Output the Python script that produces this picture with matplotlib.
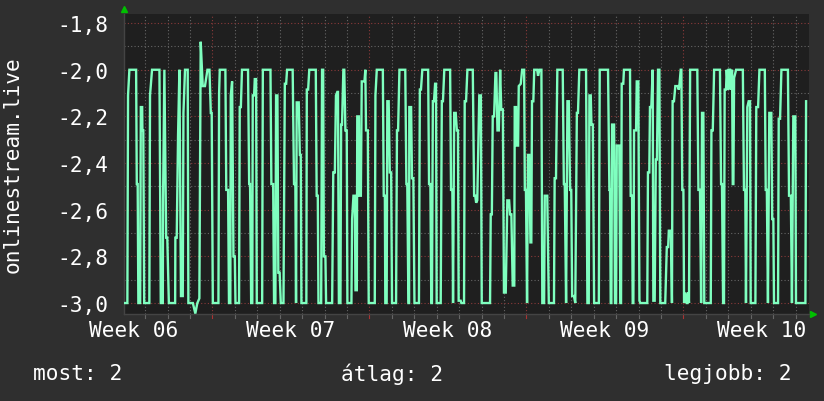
import matplotlib
matplotlib.use("Agg")
import matplotlib.pyplot as plt
from matplotlib.ticker import FixedLocator, FuncFormatter
import matplotlib.transforms as mtransforms

# ---- data (time in days relative to start of Week 07) ----
days = [
    -3.94, -3.79, -3.76, -3.70, -3.40, -3.37, -3.33, -3.30, -3.22, -3.19, -3.13, -3.12, -3.08, -3.04,
    -2.81, -2.78, -2.69, -2.36, -2.30, -2.21, -2.20, -2.14, -2.06, -2.01, -1.94, -1.66, -1.65, -1.59,
    -1.53, -1.47, -1.40, -1.32, -1.29, -1.22, -1.10, -1.07, -0.87, -0.76, -0.67, -0.58, -0.52, -0.43,
    -0.33, -0.22, -0.13, -0.07, -0.03, 0.02, 0.27,
    0.30, 0.33, 0.58, 0.62, 0.70, 0.74, 0.80, 0.82, 0.88, 0.94, 1.00, 1.03, 1.19, 1.22, 1.27, 1.32,
    1.59, 1.64, 1.68, 1.73, 1.78, 1.80, 1.86, 1.89, 1.95, 1.98, 2.22, 2.25, 2.59, 2.63, 2.71, 2.75,
    2.81, 2.84, 2.90, 2.94, 3.00, 3.05, 3.17, 3.23, 3.29, 3.33, 3.58, 3.64, 3.70, 3.73, 3.76, 3.85,
    3.90, 3.94, 3.97, 4.19, 4.21, 4.27, 4.32, 4.61, 4.65, 4.70, 4.73,
    4.85, 4.89, 4.94, 4.97, 5.04, 5.07, 5.34, 5.39, 5.46, 5.51, 5.57, 5.60, 5.64, 5.71, 5.74, 5.78,
    5.84, 5.88, 5.93, 5.99, 6.02, 6.20, 6.23, 6.29, 6.35, 6.38, 6.44, 6.46, 6.53, 6.55, 6.62, 6.66,
    6.78, 6.82, 6.85, 6.93, 6.97, 7.24, 7.27, 7.33, 7.60, 7.64, 7.69, 7.71, 7.77, 7.80, 7.86, 7.91,
    7.97, 8.01, 8.19, 8.23, 8.28, 8.34, 8.60, 8.65, 8.69, 8.74, 8.77, 8.78, 8.86, 8.90, 8.96, 9.01,
    9.21, 9.25, 9.30, 9.36, 9.62, 9.66, 9.72, 9.76, 9.79, 9.83, 9.88, 9.93, 9.97, 10.00, 10.18, 10.23,
    10.28, 10.34, 10.60, 10.64, 10.70, 10.73, 10.78, 10.85, 10.90, 10.95, 10.98, 11.07, 11.10, 11.22,
    11.25, 11.31, 11.37, 11.61, 11.67, 11.72, 11.76, 11.81, 11.90, 11.97, 12.01, 12.38, 12.41, 12.46,
    12.50, 12.56, 12.62, 12.66, 12.71, 12.77, 12.83, 12.88, 12.95, 13.00, 13.08, 13.15, 13.23, 13.27,
    13.33, 13.39,
    13.46, 13.48, 13.54, 13.57, 13.63, 13.66, 13.75, 13.81, 13.90, 13.93, 13.98, 14.03, 14.07, 14.13,
    14.18, 14.22, 14.25, 14.31, 14.35, 14.48, 14.52, 14.58, 14.67, 14.71, 14.79, 14.82, 14.93, 15.00,
    15.23, 15.26, 15.32, 15.38, 15.62, 15.67, 15.71, 15.77, 15.83, 15.89, 15.95, 16.00, 16.04, 16.12,
    16.18, 16.25, 16.30, 16.36, 16.66, 16.72, 16.78, 16.81, 16.87, 16.90, 16.96, 17.02, 17.23, 17.27,
    17.64, 17.70, 17.73,
    17.76, 17.79, 17.82, 17.91, 17.95, 18.00, 18.03, 18.14, 18.19, 18.22, 18.25, 18.32, 18.35, 18.62,
    18.65, 18.71, 18.74, 18.77, 18.80, 18.89, 18.92, 18.99, 19.04, 19.08, 19.39, 19.42, 19.48, 19.51,
    19.57, 19.63, 19.66, 19.72, 19.77, 19.82, 19.87, 19.93, 19.97, 20.19, 20.26, 20.32, 20.35, 20.44,
    20.49, 20.52, 20.58, 20.64, 20.76, 20.79, 20.82, 20.88, 20.91, 20.95, 21.00, 21.03, 21.09, 21.15,
    21.18, 21.21, 21.25, 21.30, 21.62, 21.67, 21.74, 21.79, 21.83, 21.89, 21.93,
    22.22, 22.25, 22.31, 22.37, 22.63, 22.68, 22.72, 22.77, 22.81, 22.84, 22.90, 22.93, 22.99, 23.02,
    23.08, 23.11, 23.17, 23.20, 23.23, 23.26, 23.35, 23.65, 23.70, 23.76, 23.79, 23.85, 23.91, 23.97,
    24.00, 24.21, 24.25, 24.33, 24.39, 24.63, 24.67, 24.72, 24.77, 24.83, 24.92, 24.96, 25.01, 25.04,
    25.22, 25.25, 25.31, 25.37, 25.66, 25.71, 25.79, 25.84, 25.90, 25.99, 26.02, 26.44, 26.47,
]

values = [
    -3.00, -3.00, -2.11, -2.00, -2.00, -2.49, -2.49, -3.00, -3.00, -2.16, -2.16, -2.26, -2.26, -3.00,
    -3.00, -2.11, -2.00, -2.00, -3.00, -3.00, -2.56, -2.00, -2.72, -2.72, -3.00, -3.00, -2.72, -2.72,
    -2.28, -2.00, -2.97, -2.97, -2.185, -2.00, -2.00, -3.00, -3.00, -3.045, -3.00, -2.98, -1.88, -2.07,
    -2.07, -2.00, -2.00, -2.185, -2.185, -3.00, -3.00,
    -2.10, -2.00, -2.00, -2.515, -2.515, -3.00, -3.00, -2.11, -2.05, -2.80, -2.80, -3.00, -3.00, -2.16, -2.16, -2.00,
    -2.00, -2.49, -2.49, -3.00, -3.00, -2.11, -2.11, -2.04, -2.04, -3.00, -3.00, -2.00, -2.00, -2.49, -2.49, -3.00,
    -3.00, -2.11, -2.11, -2.87, -2.87, -3.00, -3.00, -2.06, -2.06, -2.00, -2.00, -2.49, -2.49, -3.00, -2.14, -2.14,
    -2.365, -2.365, -3.00, -3.00, -2.085, -2.085, -2.00, -2.00, -2.54, -2.54, -3.00,
    -3.00, -2.00, -2.00, -2.80, -2.80, -3.00, -3.00, -2.44, -2.44, -2.11, -2.095, -2.095, -3.00, -3.00, -2.235, -2.235,
    -2.00, -2.00, -2.26, -2.26, -3.00, -3.00, -2.64, -2.54, -2.54, -2.945, -2.945, -2.20, -2.20, -2.54, -2.54, -2.05,
    -2.05, -2.00, -2.26, -2.26, -3.00, -3.00, -2.11, -2.00, -2.00, -2.54, -2.54, -3.00, -3.00, -2.135, -2.135, -2.44,
    -2.44, -3.00, -3.00, -2.26, -2.26, -2.00, -2.00, -2.49, -2.49, -3.00, -3.00, -2.16, -2.16, -2.465, -2.465, -3.00,
    -3.00, -2.085, -2.085, -2.00, -2.00, -2.49, -2.49, -3.00, -3.00, -2.135, -2.135, -2.06, -2.06, -3.00, -3.00, -2.135,
    -2.135, -2.00, -2.00, -2.515, -2.515, -3.00, -2.185, -2.185, -2.26, -2.26, -2.99, -2.99, -3.00, -3.00,
    -2.135, -2.135, -2.00, -2.00, -2.54, -2.54, -2.57, -2.56, -2.11, -2.11, -3.00, -3.00, -2.62, -2.62,
    -2.20, -2.20, -2.014, -2.014, -2.26, -2.26, -2.00, -2.17, -2.17, -2.955, -2.955, -2.56, -2.56, -2.62,
    -2.62, -2.925,
    -2.925, -2.16, -2.16, -2.325, -2.325, -2.07, -2.06, -2.00, -2.00, -2.515, -2.515, -3.00, -2.365, -2.365,
    -2.74, -2.74, -2.135, -2.135, -2.00, -2.00, -2.026, -2.00, -2.00, -3.00, -3.00, -2.54, -2.54, -3.00,
    -3.00, -2.465, -2.465, -2.00, -2.00, -2.49, -2.49, -3.00, -2.135, -2.135, -2.515, -2.515, -2.97, -2.97,
    -3.00, -2.185, -2.185, -2.00, -2.00, -3.00, -3.00, -2.11, -2.11, -2.235, -2.235, -3.00, -3.00, -2.00,
    -2.00, -2.515, -2.515,
    -3.00, -3.00, -2.235, -2.235, -3.00, -3.00, -2.325, -2.325, -3.00, -3.00, -2.06, -2.06, -2.00, -2.00,
    -2.54, -2.54, -3.00, -3.00, -2.26, -2.26, -2.05, -2.05, -2.99, -3.00, -3.00, -2.44, -2.44, -2.16,
    -2.16, -2.00, -2.99, -2.99, -2.385, -2.385, -2.00, -2.00, -3.00, -3.00, -2.76, -2.76, -2.69, -2.69,
    -3.00, -2.135, -2.135, -2.07, -2.07, -2.085, -2.07, -2.00, -2.00, -2.515, -2.515, -3.00, -2.955, -3.00,
    -3.00, -2.955, -3.00, -2.00, -2.00, -2.515, -2.515, -3.00, -2.185, -2.185, -3.00,
    -3.00, -2.26, -2.26, -2.00, -2.00, -2.49, -2.49, -3.00, -3.00, -2.085, -2.085, -2.00, -2.085, -2.00,
    -2.00, -2.085, -2.00, -2.49, -2.49, -2.035, -2.00, -2.00, -2.515, -2.515, -3.00, -2.16, -2.135, -2.135,
    -3.00, -3.00, -2.16, -2.16, -2.00, -2.00, -2.515, -2.515, -3.00, -2.185, -2.185, -2.64, -2.64, -3.00,
    -3.00, -2.21, -2.21, -2.00, -2.00, -2.54, -2.54, -3.00, -2.20, -2.20, -3.00, -3.00, -2.135,
]

week_labels = ["Week 06", "Week 07", "Week 08", "Week 09", "Week 10"]
week_label_pos = [-3.5, 3.5, 10.5, 17.5, 24.5]
week_starts = [0, 7, 14, 21]
y_major = [-3.0, -2.8, -2.6, -2.4, -2.2, -2.0, -1.8]
y_minor = [-2.9, -2.7, -2.5, -2.3, -2.1, -1.9]
legend_texts = ["most: 2", "átlag: 2", "legjobb: 2"]
ylabel_text = "onlinestream.live"

# ---- styling ----
BG = "#2f2f2f"
PLOT_BG = "#1f1f1f"
LINE = "#7fffbf"
MINOR = "#666666"
MAJOR = "#8a3a3a"
TXT = "#ffffff"
FONT = "DejaVu Sans Mono"
FS = 15.2

fig = plt.figure(figsize=(8.24, 4.02), dpi=100, facecolor=BG)
ax = fig.add_axes([124 / 824, 1 - 315 / 402, (809 - 124) / 824, (315 - 15) / 402])
ax.set_facecolor(PLOT_BG)

xmin, xmax = -3.94, 26.60
ymin, ymax = -3.047, -1.761
ax.set_xlim(xmin, xmax)
ax.set_ylim(ymin, ymax)

dots = (0, (1, 2))
day_ticks = [d for d in range(-3, 27) if d % 7 != 0]
for d in day_ticks:
    ax.axvline(d, color=MINOR, lw=0.8, ls=dots, zorder=1)
for d in week_starts:
    ax.axvline(d, color=MAJOR, lw=0.8, ls=dots, zorder=1)
for y in y_minor:
    ax.axhline(y, color=MINOR, lw=0.8, ls=dots, zorder=1)
for y in y_major:
    ax.axhline(y, color=MAJOR, lw=0.8, ls=dots, zorder=1)

ax.plot(days, values, color=LINE, lw=1.7, zorder=3, solid_joinstyle="miter")

ax.yaxis.set_major_locator(FixedLocator(y_major))
ax.yaxis.set_major_formatter(FuncFormatter(lambda v, p: f"{v:.1f}".replace(".", ",")))
ax.tick_params(axis="y", length=0, pad=11, labelsize=FS, labelcolor=TXT)
ax.set_xticks(week_label_pos)
ax.set_xticklabels(week_labels)
ax.tick_params(axis="x", length=0, pad=4, labelsize=FS, labelcolor=TXT)
for lab in ax.get_xticklabels() + ax.get_yticklabels():
    lab.set_fontfamily(FONT)

for s in ["top", "right"]:
    ax.spines[s].set_visible(False)
for s in ["left", "bottom"]:
    ax.spines[s].set_color("#444444")
    ax.spines[s].set_linewidth(1.0)

trans = mtransforms.blended_transform_factory(ax.transData, ax.transAxes)
for d in day_ticks:
    ax.plot([d, d], [0, -0.012], color=MINOR, lw=0.8, transform=trans, clip_on=False)
for d in week_starts:
    ax.plot([d, d], [0, -0.012], color="#aa3333", lw=0.8, transform=trans, clip_on=False)

ax.plot([0], [1.017], marker="^", color="#00c000", markersize=5, transform=ax.transAxes, clip_on=False)
ax.plot([1.006], [0.0], marker=">", color="#00c000", markersize=5, transform=ax.transAxes, clip_on=False)

fig.text(13 / 824, 1 - 165 / 402, ylabel_text, rotation=90, ha="center", va="center",
         fontsize=FS, color=TXT, fontfamily=FONT)

ly = 1 - 374 / 402
fig.text(33 / 824, ly, legend_texts[0], ha="left", va="center", fontsize=FS, color=TXT, fontfamily=FONT)
fig.text(392 / 824, ly, legend_texts[1], ha="center", va="center", fontsize=FS, color=TXT, fontfamily=FONT)
fig.text(792 / 824, ly, legend_texts[2], ha="right", va="center", fontsize=FS, color=TXT, fontfamily=FONT)

fig.savefig("out.png", dpi=100, facecolor=BG)
